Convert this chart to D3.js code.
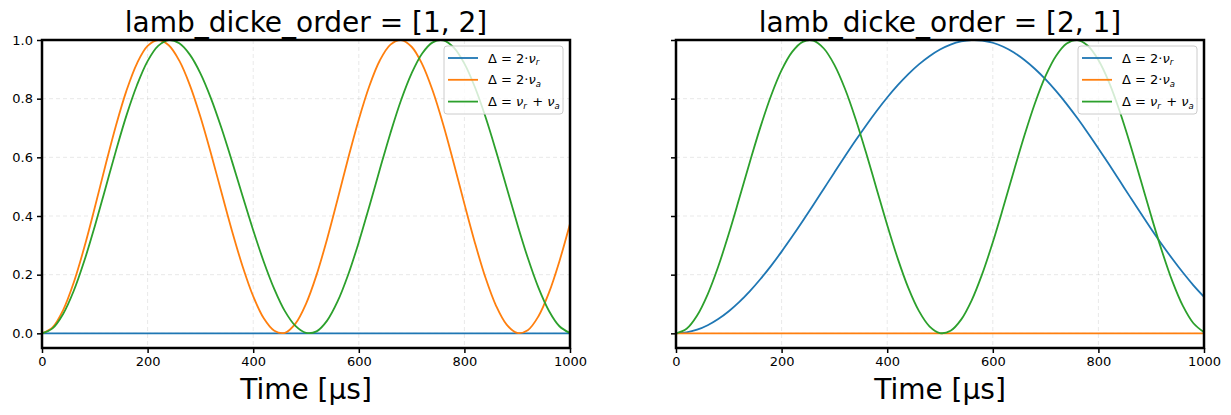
<!DOCTYPE html>
<html><head><meta charset="utf-8">
<script src="https://cdn.jsdelivr.net/npm/d3@7"></script>
<style>body{margin:0;background:#fff} text{font-family:"DejaVu Sans",sans-serif}</style>
</head><body><svg id="c" width="1231" height="415"></svg>
<script>
const time = [0,20,40,60,80,100,120,140,160,180,200,220,240,260,280,300,320,340,360,380,400,420,440,460,480,500,520,540,560,580,600,620,640,660,680,700,720,740,760,780,800,820,840,860,880,900,920,940,960,980,1000];
const xTicks = [0,200,400,600,800,1000];
const yTicks = [0.0,0.2,0.4,0.6,0.8,1.0];
const titles = ["lamb_dicke_order = [1, 2]", "lamb_dicke_order = [2, 1]"];
const seriesNames = ["2·ν_r", "2·ν_a", "ν_r + ν_a"];
const colors = ["#1f77b4", "#ff7f0e", "#2ca02c"];

const leftBlue = [0,0,0,0,0,0,0,0,0,0,0,0,0,0,0,0,0,0,0,0,0,0,0,0,0,0,0,0,0,0,0,0,0,0,0,0,0,0,0,0,0,0,0,0,0,0,0,0,0,0,0];
const leftOrange = [0,0.0203,0.0794,0.1726,0.2923,0.4288,0.5712,0.7077,0.8274,0.9206,0.9797,1.0,0.9821,0.9296,0.8464,0.7383,0.6131,0.4799,0.3483,0.2279,0.1264,0.0512,0.0088,0.0018,0.0329,0.1005,0.1993,0.3218,0.4579,0.5975,0.7290,0.8430,0.9308,0.9842,0.9998,0.9770,0.9179,0.8269,0.7112,0.5792,0.4413,0.3083,0.1893,0.0939,0.0296,0.0012,0.0107,0.0575,0.1380,0.2461,0.3735];
const leftGreen = [0,0.0168,0.0659,0.1442,0.2463,0.3654,0.4933,0.6220,0.7430,0.8466,0.9279,0.9797,0.9998,0.9887,0.9501,0.8864,0.8011,0.6989,0.5854,0.4674,0.3515,0.2442,0.1506,0.0756,0.0253,0.0017,0.0068,0.0434,0.1094,0.2005,0.3108,0.4334,0.5601,0.6833,0.7947,0.8863,0.9541,0.9920,0.9986,0.9738,0.9194,0.8389,0.7373,0.6208,0.4970,0.3733,0.2576,0.1567,0.0772,0.0242,0.0010];
const rightBlue = [0,0.0031,0.0123,0.0276,0.0487,0.0753,0.1072,0.1440,0.1852,0.2300,0.2786,0.3298,0.3829,0.4376,0.4931,0.5486,0.6035,0.6572,0.7088,0.7580,0.8040,0.8460,0.8838,0.9169,0.9448,0.9675,0.9842,0.9950,0.9998,0.9983,0.9906,0.9768,0.9571,0.9318,0.9012,0.8657,0.8256,0.7815,0.7338,0.6832,0.6304,0.5761,0.5208,0.4652,0.4101,0.3561,0.3038,0.2542,0.2072,0.1637,0.1244];
const rightOrange = [0,0,0,0,0,0,0,0,0,0,0,0,0,0,0,0,0,0,0,0,0,0,0,0,0,0,0,0,0,0,0,0,0,0,0,0,0,0,0,0,0,0,0,0,0,0,0,0,0,0,0];
const rightGreen = [0,0.0154,0.0607,0.1330,0.2279,0.3394,0.4612,0.5850,0.7038,0.8100,0.8971,0.9595,0.9938,0.9978,0.9710,0.9152,0.8338,0.7318,0.6156,0.4922,0.3693,0.2547,0.1549,0.0765,0.0240,0.0010,0.0087,0.0467,0.1126,0.2026,0.3105,0.4303,0.5543,0.6751,0.7852,0.8776,0.9464,0.9880,0.9998,0.9805,0.9317,0.8563,0.7586,0.6456,0.5233,0.3996,0.2823,0.1778,0.0934,0.0344,0.0038];

const svg = d3.select("#c");
const axTop = 40, axBottom = 348, W = 528;
const panels = [
  {x0: 42, title: titles[0], data: [leftBlue, leftOrange, leftGreen], ylabels: true},
  {x0: 676, title: titles[1], data: [rightBlue, rightOrange, rightGreen], ylabels: false}
];

panels.forEach((p, pi) => {
  const x = d3.scaleLinear().domain([0, 1000]).range([p.x0, p.x0 + W]);
  const y = d3.scaleLinear().domain([-0.05, 1.0]).range([axBottom, axTop]);
  const g = svg.append("g");
  const clipId = "clip" + pi;
  svg.append("clipPath").attr("id", clipId).append("rect")
    .attr("x", p.x0).attr("y", axTop).attr("width", W).attr("height", axBottom - axTop);

  g.selectAll(".gx").data(xTicks).join("line")
    .attr("x1", d => x(d)).attr("x2", d => x(d)).attr("y1", axTop).attr("y2", axBottom)
    .attr("stroke", "#b0b0b0").attr("stroke-opacity", 0.35).attr("stroke-width", 0.8).attr("stroke-dasharray", "4,3");
  g.selectAll(".gy").data(yTicks).join("line")
    .attr("y1", d => y(d)).attr("y2", d => y(d)).attr("x1", p.x0).attr("x2", p.x0 + W)
    .attr("stroke", "#b0b0b0").attr("stroke-opacity", 0.35).attr("stroke-width", 0.8).attr("stroke-dasharray", "4,3");

  const line = d3.line().x((d, i) => x(time[i])).y(d => y(d)).curve(d3.curveCatmullRom);
  const lg = g.append("g").attr("clip-path", `url(#${clipId})`);
  p.data.forEach((s, si) => {
    lg.append("path").attr("d", line(s)).attr("fill", "none")
      .attr("stroke", colors[si]).attr("stroke-width", 1.8);
  });

  const xAxis = d3.axisBottom(x).tickValues(xTicks).tickSize(5).tickPadding(4).tickFormat(d3.format("d"));
  const ax = g.append("g").attr("transform", `translate(0,${axBottom})`).call(xAxis);
  ax.select(".domain").remove();
  ax.selectAll(".tick line").attr("stroke-width", 1.5);
  ax.selectAll("text").attr("font-size", 13).attr("fill", "#000").attr("font-family", "DejaVu Sans");

  const yAxis = d3.axisLeft(y).tickValues(yTicks).tickSize(5).tickPadding(4).tickFormat(d3.format(".1f"));
  const ay = g.append("g").attr("transform", `translate(${p.x0},0)`).call(yAxis);
  ay.select(".domain").remove();
  ay.selectAll(".tick line").attr("stroke-width", 1.5);
  ay.selectAll("text").attr("font-size", 13).attr("fill", "#000").attr("font-family", "DejaVu Sans")
    .style("display", p.ylabels ? null : "none");

  g.append("rect").attr("x", p.x0).attr("y", axTop).attr("width", W).attr("height", axBottom - axTop)
    .attr("fill", "none").attr("stroke", "#000").attr("stroke-width", 2.5);

  g.append("text").attr("x", p.x0 + W / 2).attr("y", 32).attr("text-anchor", "middle")
    .attr("font-size", 28).text(p.title);
  g.append("text").attr("x", p.x0 + W / 2).attr("y", 399).attr("text-anchor", "middle")
    .attr("font-size", 28).text("Time [μs]");

  const bw = 119, bh = 68;
  const bx = p.x0 + W - 7 - bw, by = axTop + 6;
  const leg = g.append("g");
  leg.append("rect").attr("x", bx).attr("y", by).attr("width", bw).attr("height", bh)
    .attr("rx", 3).attr("fill", "#fff").attr("fill-opacity", 0.8)
    .attr("stroke", "#cccccc").attr("stroke-width", 1);
  seriesNames.forEach((name, i) => {
    const ry = by + 12 + i * 21.8;
    leg.append("line").attr("x1", bx + 4).attr("x2", bx + 34).attr("y1", ry).attr("y2", ry)
      .attr("stroke", colors[i]).attr("stroke-width", 1.8);
    const t = leg.append("text").attr("x", bx + 44).attr("y", ry + 4.5).attr("font-size", 13);
    t.append("tspan").text("Δ = ");
    const parts = name.split(/(ν_[ra])/).filter(s => s.length);
    parts.forEach(part => {
      if (part.startsWith("ν_")) {
        t.append("tspan").attr("font-style", "italic").text("ν");
        t.append("tspan").attr("font-style", "italic").attr("font-size", 8.5).attr("dy", 2.5).text(part[2]);
        t.append("tspan").attr("dy", -2.5).text("\u200a");
      } else {
        t.append("tspan").text(part);
      }
    });
  });
});
</script></body></html>
